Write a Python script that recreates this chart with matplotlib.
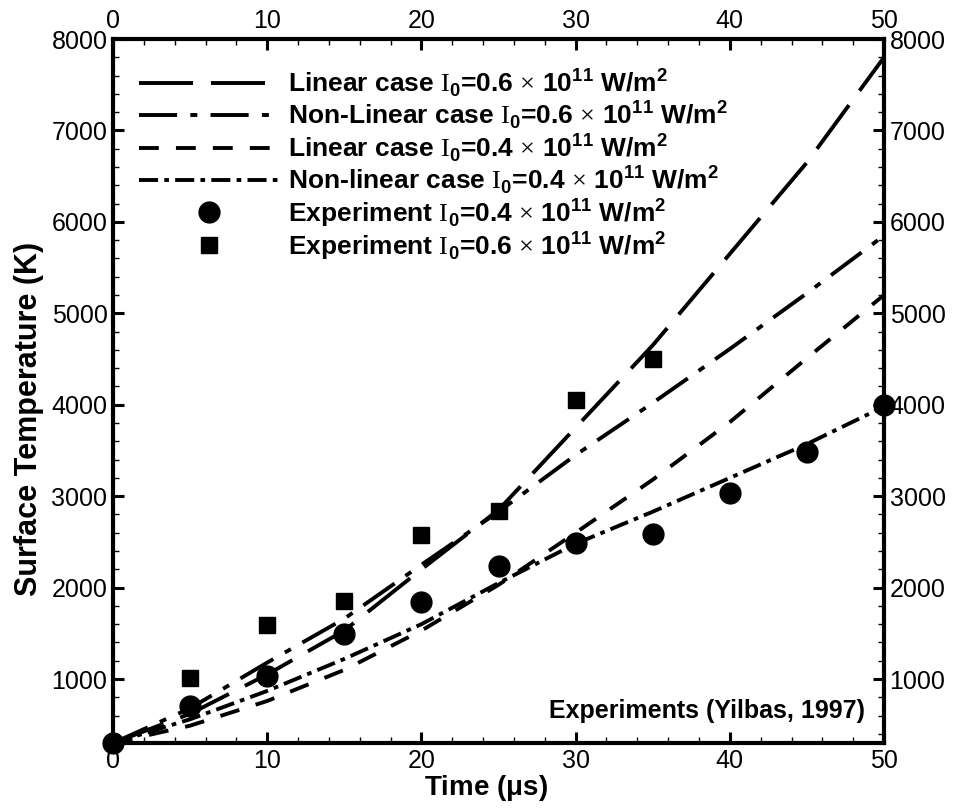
import matplotlib
matplotlib.use('Agg')
import matplotlib.pyplot as plt
from matplotlib.ticker import MultipleLocator

plt.rcParams['font.family'] = ['Liberation Sans', 'DejaVu Sans']
plt.rcParams['mathtext.fontset'] = 'custom'
plt.rcParams['mathtext.rm'] = 'Liberation Serif'
plt.rcParams['mathtext.bf'] = 'Liberation Sans:bold'

# model curves, every 5 us
time_us = [0, 5, 10, 15, 20, 25, 30, 35, 40, 45, 50]
linear_06 = [300, 620, 1050, 1530, 2200, 2850, 3750, 4650, 5650, 6650, 7800]
nonlinear_06 = [300, 680, 1180, 1660, 2250, 2830, 3450, 4020, 4610, 5220, 5850]
linear_04 = [300, 490, 760, 1100, 1530, 2030, 2600, 3180, 3810, 4510, 5200]
nonlinear_04 = [300, 560, 870, 1220, 1600, 2050, 2480, 2830, 3200, 3570, 3980]

# experiments (Yilbas, 1997)
exp04_time = [0, 5, 10, 15, 20, 25, 30, 35, 40, 45, 50]
exp04_temp = [300, 700, 1030, 1490, 1840, 2240, 2490, 2590, 3040, 3480, 4000]
exp06_time = [5, 10, 15, 20, 25, 30, 35]
exp06_temp = [1010, 1590, 1850, 2580, 2840, 4050, 4500]

I0 = r'$\mathrm{I}_{\mathbf{0}}$'
tail = r' $\times$ 10$^{\mathbf{11}}$ W/m$^{\mathbf{2}}$'
labels = ['Linear case ' + I0 + '=0.6' + tail,
          'Non-Linear case ' + I0 + '=0.6' + tail,
          'Linear case ' + I0 + '=0.4' + tail,
          'Non-linear case ' + I0 + '=0.4' + tail,
          'Experiment ' + I0 + '=0.4' + tail,
          'Experiment ' + I0 + '=0.6' + tail]

fig = plt.figure(figsize=(9.61, 8.08), dpi=100)
ax = fig.add_axes([0.1176, 0.0804, 0.8023, 0.8713])

lw = 2.8
ax.plot(time_us, linear_06, color='k', lw=lw, ls=(0, (13.9, 4.6)), label=labels[0])
ax.plot(time_us, nonlinear_06, color='k', lw=lw, ls=(0, (9.8, 3.4, 1.8, 3.4)), label=labels[1])
ax.plot(time_us, linear_04, color='k', lw=lw, ls=(0, (5.1, 4.4)), label=labels[2])
ax.plot(time_us, nonlinear_04, color='k', lw=lw, ls=(0, (4.9, 1.6, 1.2, 1.6)), label=labels[3])
ax.plot(exp04_time, exp04_temp, 'o', color='k', ms=15, clip_on=False, zorder=5, label=labels[4])
ax.plot(exp06_time, exp06_temp, 's', color='k', ms=11.5, clip_on=False, zorder=5, label=labels[5])

ax.set_xlim(0, 50)
ax.set_ylim(300, 8000)
ax.xaxis.set_major_locator(MultipleLocator(10))
ax.xaxis.set_minor_locator(MultipleLocator(2))
ax.yaxis.set_major_locator(MultipleLocator(1000))
ax.yaxis.set_minor_locator(MultipleLocator(200))
ax.tick_params(which='both', direction='in', top=True, right=True,
               labeltop=True, labelright=True, labelsize=18, pad=4)
ax.tick_params(which='major', length=8, width=2.2)
ax.tick_params(which='minor', length=4, width=1)
for s in ax.spines.values():
    s.set_linewidth(3)

ax.set_xlabel(r'Time ($\mathbf{\mu}$s)', fontsize=20, fontweight='bold')
ax.set_ylabel('Surface Temperature (K)', fontsize=22, fontweight='bold')
ax.xaxis.set_label_coords(0.484, -0.043)
ax.yaxis.set_label_coords(-0.09, 0.46)

ax.text(0.975, 0.036, 'Experiments (Yilbas, 1997)', transform=ax.transAxes,
        ha='right', va='baseline', fontsize=18, fontweight='bold')

leg = ax.legend(loc='upper left', bbox_to_anchor=(0.02, 0.976), frameon=False,
                prop={'weight': 'bold', 'size': 19}, handlelength=5.3,
                handletextpad=0.35, labelspacing=0.0, borderaxespad=0)

fig.savefig('out.png', dpi=100)
